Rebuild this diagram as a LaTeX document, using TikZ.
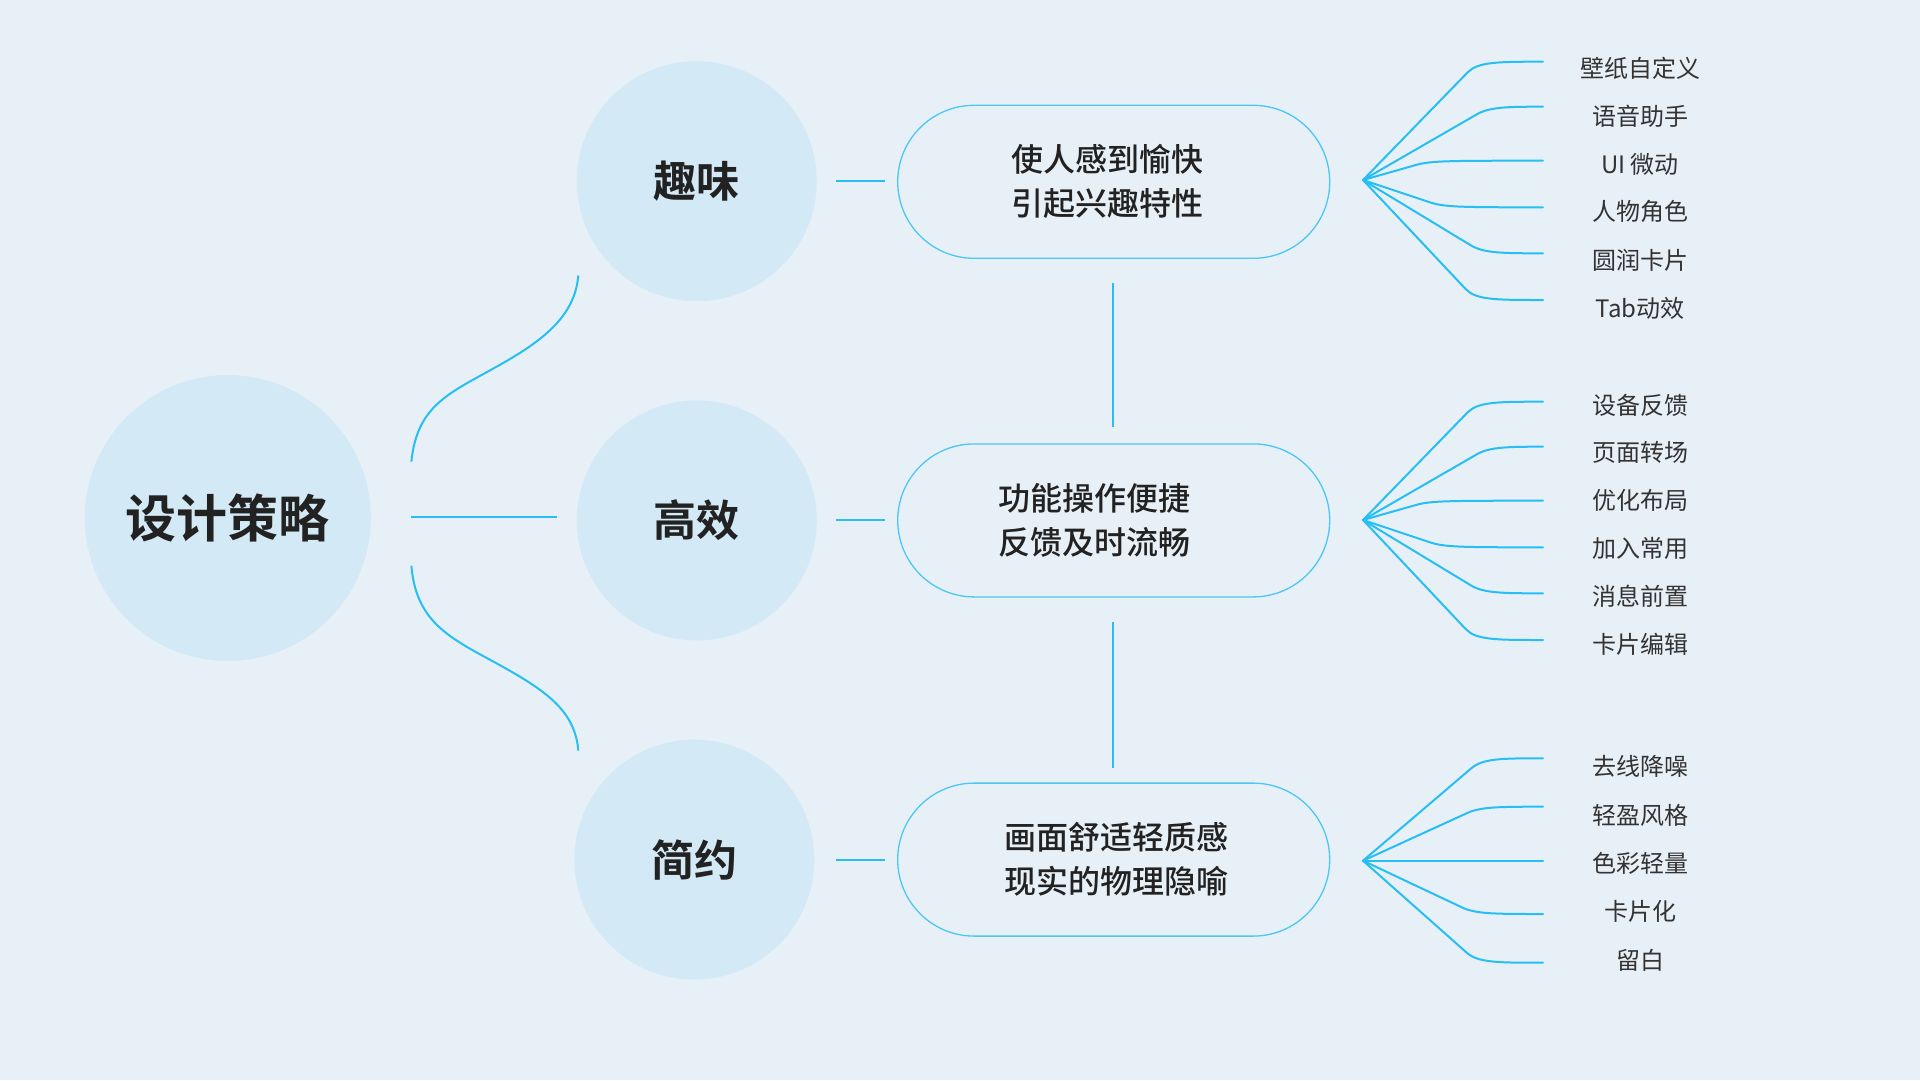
\documentclass[tikz,border=0pt]{standalone}
\usepackage{fontspec}
\usetikzlibrary{calc}
\setmainfont{Noto Sans CJK SC}
\IfFontExistsTF{Noto Sans CJK SC Medium}{\newfontfamily\medfont{Noto Sans CJK SC Medium}}{\newfontfamily\medfont{Noto Sans CJK SC}[FakeBold=0.6]}
\IfFontExistsTF{Noto Sans CJK SC Bold}{\newfontfamily\heavyfont{Noto Sans CJK SC Bold}}{\newfontfamily\heavyfont{Noto Sans CJK SC}[FakeBold=2]}
\definecolor{bgc}{HTML}{E8F0F7}
\definecolor{circc}{HTML}{D3EAF6}
\definecolor{linec}{HTML}{27BEF5}
\definecolor{pillc}{HTML}{4CC6F5}
\definecolor{txtc}{HTML}{222222}
\definecolor{leafc}{HTML}{333333}
\tikzset{
  bigcirc/.style={circle, fill=circc, inner sep=0pt, minimum size=286pt, text=txtc, font=\heavyfont\fontsize{51}{51}\selectfont},
  midcirc/.style={circle, fill=circc, inner sep=0pt, minimum size=240pt, text=txtc, font=\heavyfont\fontsize{43}{43}\selectfont},
  pill/.style={draw=pillc, line width=1.3pt, rounded corners=76.5pt, minimum width=432pt, minimum height=153pt, inner sep=0pt},
  pilltext/.style={align=center, text=txtc, font=\medfont\fontsize{32}{44}\selectfont, inner sep=0pt},
  conn/.style={draw=linec, line width=2pt},
  fan/.style={draw=linec, line width=2pt, line cap=round, line join=round},
  leaf/.style={text=leafc, font=\fontsize{24}{24}\selectfont, inner sep=0pt}
}
% fan branch: #1 origin, #2 end, #3 distance of the bend point left of the end
\newcommand{\fanbranch}[3]{%
  \coordinate (kk) at ([xshift=-#3pt]#2);
  \draw[fan] (#1) -- ($(kk)!15pt!(#1)$) .. controls (kk) and ([xshift=20pt]kk) .. (#2);
}
\begin{document}
\begin{tikzpicture}[x=1pt, y=-1pt]
\fill[bgc] (0,0) rectangle (1920,1080);
\useasboundingbox (0,0) rectangle (1920,1080);

% circles
\node[bigcirc] (root) at (227.8,518) {设计策略};
\node[midcirc] (c1) at (696.8,181.2) {趣味};
\node[midcirc] (c2) at (696.8,520.4) {高效};
\node[midcirc] (c3) at (694.3,859.6) {简约};

% root connectors
\coordinate (a1) at (411.4,461.6);
\coordinate (m1) at (496,367);
\coordinate (b1) at (578.3,275.5);
\coordinate (a2) at (411.4,516.7);
\coordinate (b2) at (557.2,516.7);
\coordinate (a3) at (411.4,565.7);
\coordinate (m3) at (496,663);
\coordinate (b3) at (578.3,750.6);
\draw[conn] (a1) .. controls (417,405) and (450,393) .. (m1) .. controls (545,340) and (575,315) .. (b1);
\draw[conn] (a2) -- (b2);
\draw[conn] (a3) .. controls (416,622) and (450,638) .. (m3) .. controls (545,690) and (575,710) .. (b3);

% pills
\node[pill] (p1) at (1113.7,181.8) {};
\node[pill] (p2) at (1113.7,520.4) {};
\node[pill] (p3) at (1113.7,859.6) {};
\node[pilltext] (t1) at (1107,181.2) {使人感到愉快\\引起兴趣特性};
\node[pilltext] (t2) at (1094.7,520.4) {功能操作便捷\\反馈及时流畅};
\node[pilltext] (t3) at (1116.7,859.6) {画面舒适轻质感\\现实的物理隐喻};

% short links circle -> pill
\foreach \n/\y in {1/181.2, 2/520.4, 3/859.6}{
  \coordinate (sa\n) at (836.3,\y);
  \coordinate (sb\n) at (885.3,\y);
  \draw[conn] (sa\n) -- (sb\n);
}

% vertical links between pills
\coordinate (v1a) at (1113,282.9);
\coordinate (v1b) at (1113,427.4);
\coordinate (v2a) at (1113,622);
\coordinate (v2b) at (1113,767.8);
\draw[conn] (v1a) -- (v1b);
\draw[conn] (v2a) -- (v2b);

% fans
\coordinate (f1) at (1363,180);
\coordinate (f2) at (1363,520);
\coordinate (f3) at (1363,860.7);

\foreach \ey/\ly/\kx/\t [count=\i] in {61.7/68.3/65/壁纸自定义, 106.7/116/53/语音助手, 160.7/164/112/UI 微动, 207.3/211.7/98/人物角色, 253.3/260/59/圆润卡片, 300/308.3/67/Tab动效}{
  \coordinate (e1\i) at (1543,\ey);
  \fanbranch{f1}{e1\i}{\kx}
  \node[leaf] (l1\i) at (1640,\ly) {\t};
}
\foreach \ey/\ly/\kx/\t [count=\i] in {401.7/405/65/设备反馈, 446.7/452.7/53/页面转场, 500.7/500.7/112/优化布局, 547.3/548.3/98/加入常用, 593.3/596/59/消息前置, 640/644/67/卡片编辑}{
  \coordinate (e2\i) at (1543,\ey);
  \fanbranch{f2}{e2\i}{\kx}
  \node[leaf] (l2\i) at (1640,\ly) {\t};
}
\foreach \ey/\ly/\kx/\t [count=\i] in {758.3/766.7/60/去线降噪, 806.7/815/62/轻盈风格, 860.7/863.3/63/色彩轻量, 914/911.7/67/卡片化, 962.7/960/65/留白}{
  \coordinate (e3\i) at (1543,\ey);
  \fanbranch{f3}{e3\i}{\kx}
  \node[leaf] (l3\i) at (1640,\ly) {\t};
}
\end{tikzpicture}
\end{document}
